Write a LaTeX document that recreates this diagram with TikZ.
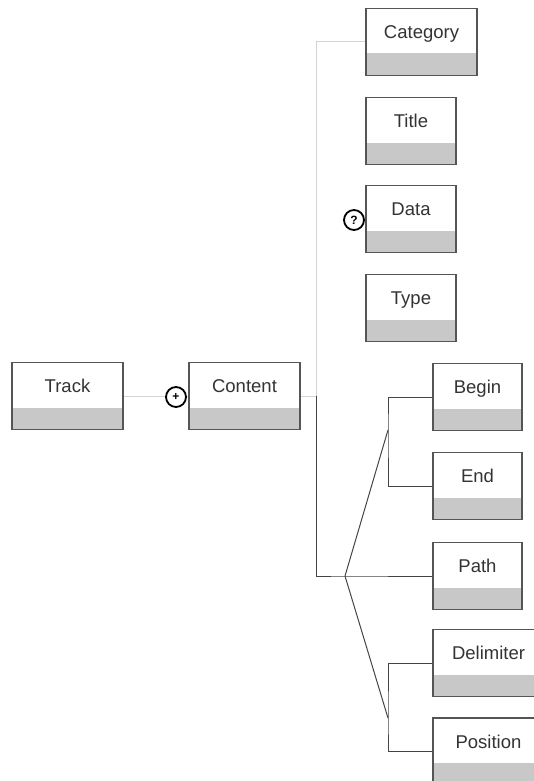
\documentclass[tikz,border=0pt]{standalone}
\usepackage{fontspec}
\setmainfont{Liberation Sans}
\definecolor{boxc}{HTML}{555555}
\definecolor{bandc}{HTML}{C8C8C8}
\definecolor{lightc}{HTML}{D4D4D4}
\definecolor{darkc}{HTML}{444444}
\begin{document}
\begin{tikzpicture}[x=1pt,y=-1pt,
  ebox/.style={draw=boxc, line width=1.3pt, fill=white, minimum height=67pt,
    inner sep=0pt, text height=30pt, text depth=37pt, font=\fontsize{18.5}{21}\selectfont,
    text=black!80,
    path picture={\fill[bandc] (path picture bounding box.south west) rectangle ([yshift=22pt]path picture bounding box.south east);}},
  wide/.style={minimum width=111pt},
  narrow/.style={minimum width=90pt},
  lconn/.style={draw=lightc, line width=1pt},
  dconn/.style={draw=darkc, line width=1pt},
  marker/.style={circle, draw=black, line width=1.8pt, fill=white, minimum size=20pt, inner sep=0pt, font=\bfseries\fontsize{12}{12}\selectfont}
]
\path[use as bounding box] (0,0) rectangle (534,781);
\begin{scope}
\clip (0,0) rectangle (534,781);
\coordinate (K) at (316,396);
\coordinate (J) at (345,576);
\coordinate (U) at (388,430);
\coordinate (L) at (388,718);
\node[ebox,wide] (track) at (67.5,396) {Track};
\node[ebox,wide] (content) at (244.5,396) {Content};
\node[ebox,wide] (category) at (421.5,42) {Category};
\node[ebox,narrow] (title) at (411,131) {Title};
\node[ebox,narrow] (data) at (411,219) {Data};
\node[ebox,narrow] (type) at (411,308) {Type};
\node[ebox,minimum width=89pt] (begin) at (477.5,397) {Begin};
\node[ebox,minimum width=89pt] (end) at (477.5,486) {End};
\node[ebox,minimum width=89pt] (path) at (477.5,576) {Path};
\node[ebox,wide] (delim) at (488.5,663) {Delimiter};
\node[ebox,wide] (position) at (488.5,751.5) {Position};

\draw[lconn] (track.east) -- (content.west);
\draw[lconn] (content.east) -- (K);
\draw[lconn] (K) |- (category.west);
\draw[dconn] (K) |- (J) -- (path.west);
\draw[dconn] (J) -- (U);
\draw[dconn] (begin.west) -| (U) |- (end.west);
\draw[dconn] (J) -- (L);
\draw[dconn] (delim.west) -| (L) |- (position.west);

\node[marker] (plus) at (176,397) {+};
\node[marker] (quest) at (354,220) {?};
\end{scope}
\end{tikzpicture}
\end{document}
